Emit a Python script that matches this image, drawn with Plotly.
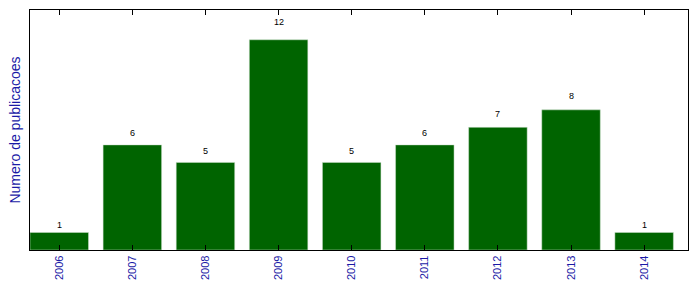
import plotly.graph_objects as go

years = ["2006", "2007", "2008", "2009", "2010", "2011", "2012", "2013", "2014"]
counts = [1, 6, 5, 12, 5, 6, 7, 8, 1]

fig = go.Figure()
fig.add_trace(go.Bar(
    x=list(range(len(years))), y=counts, width=0.8,
    marker=dict(color="#006400", line=dict(color="#cfe0cf", width=0.5)),
))
for i, v in enumerate(counts):
    fig.add_annotation(x=i, y=v * 1.05, text=str(v), showarrow=False,
                       yanchor="bottom", xanchor="center",
                       font=dict(size=9, color="black", family="Liberation Sans"))

fig.update_layout(
    width=697, height=289,
    margin=dict(l=30, r=9, t=10, b=39),
    paper_bgcolor="white", plot_bgcolor="white",
    showlegend=False,
    font=dict(family="Liberation Sans"),
)
fig.update_xaxes(
    range=[-0.4, 8.6], tickmode="array", tickvals=list(range(len(years))), ticktext=years,
    tickangle=-90, tickfont=dict(size=11, color="#1a1aa6"),
    ticks="inside", ticklen=5, tickcolor="black",
    showline=True, linecolor="black", linewidth=1.3, mirror="allticks",
    showgrid=False, zeroline=False,
)
fig.update_yaxes(
    range=[0, 13.7], showticklabels=False, ticks="",
    showline=True, linecolor="black", linewidth=1.3, mirror=True,
    showgrid=False, zeroline=False,
    title=dict(text="Numero de publicacoes", font=dict(size=14, color="#1a1aa6"), standoff=4),
)
fig.write_html("out.html")
